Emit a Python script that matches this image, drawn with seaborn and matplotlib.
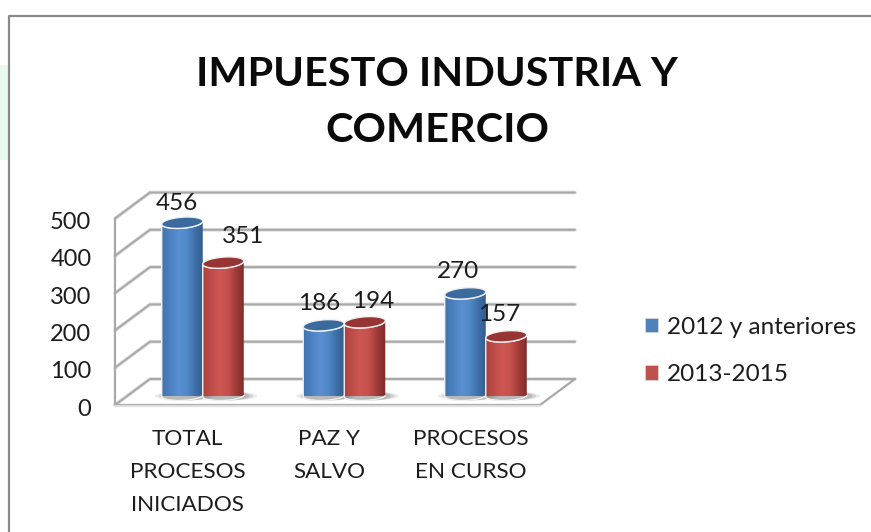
import numpy as np
import pandas as pd
import matplotlib
matplotlib.use("Agg")
import matplotlib.pyplot as plt
import matplotlib.transforms as mtrans
from matplotlib.colors import LinearSegmentedColormap
from matplotlib.patches import PathPatch, Patch, Rectangle
from matplotlib.path import Path
import seaborn as sns

# data
categories = ["TOTAL\nPROCESOS\nINICIADOS", "PAZ Y\nSALVO", "PROCESOS\nEN CURSO"]
series_names = ["2012 y anteriores", "2013-2015"]
values_2012 = [456, 186, 270]
values_2013 = [351, 194, 157]
y_ticks = [0, 100, 200, 300, 400, 500]

# style
W, H = 871, 532
FONT = ["Lato", "DejaVu Sans"]
TEXT = "#1c1c1c"
GRID = "#a8a8a8"
LEGEND_COLORS = ["#4f81bd", "#c0504d"]
SHADES = [
    ["#4274ae", "#4c82c1", "#5a90d2", "#5088c8", "#3f6fa8", "#315c8a"],
    ["#ad423f", "#bf4d49", "#cf5753", "#c4504c", "#a03b38", "#7c2b28"],
]
CAP_COLORS = ["#3b6a9e", "#963533"]
# label shift from top of each bar, px (dx, dy)
LABEL_SHIFT = [[(-5, 19), (-5, 22), (-7, 22)], [(20, 26), (8, 21), (-7, 22)]]

sns.set_style("white")
plt.rcParams["font.family"] = FONT


def px_axes(fig, x0, x1, y_top, y_bottom):
    return fig.add_axes([x0 / W, 1 - y_bottom / H, (x1 - x0) / W, (y_bottom - y_top) / H])


def draw_walls(ax, fig):
    # px per value on the wall, depth of the 3d box
    scale = 0.373
    dx, dy = 35, 26 / scale
    left, right = 115, 575
    ax.set_xlim(left, right)
    ax.set_ylim(0, 213 / scale)
    ax.patch.set_alpha(0)
    sns.despine(ax=ax, left=True, bottom=True)
    for t in y_ticks:
        xs = [left, left + dx, right]
        ys = [t, t + dy, t + dy]
        ax.plot(xs, ys, color="#dcdcdc", lw=2.6, solid_joinstyle="miter", clip_on=False)
        ax.plot(xs, ys, color=GRID, lw=1.4, solid_joinstyle="miter", clip_on=False)
    ax.plot([left, left], [0, y_ticks[-1]], color=GRID, lw=1.6, clip_on=False)
    ax.plot([left, right - dx, right], [0, 0, dy], color=GRID, lw=1.6, clip_on=False)
    ax.plot([left, right - dx], [-3, -3], color="#dedede", lw=1.6, clip_on=False)
    ax.set_xticks([])
    ax.set_yticks(y_ticks)
    ax.tick_params(axis="y", length=0, pad=17, labelsize=17, labelcolor=TEXT)
    down = mtrans.ScaledTranslation(0, -2 / 100, fig.dpi_scale_trans)
    for label in ax.get_yticklabels():
        label.set_transform(label.get_transform() + down)


def ellipse_xy(cx, cy, w, h, tilt, t):
    return cx + w / 2 * np.cos(t), cy + h / 2 * np.sin(t) + tilt * np.cos(t)


def cylinder(ax, bar, shades, cap_color, h, tilt, zorder):
    # turn one flat seaborn bar into a shaded cylinder
    x0, w, top = bar.get_x(), bar.get_width(), bar.get_height()
    cx = x0 + w / 2
    xs_top, ys_top = ellipse_xy(cx, top, w, h, tilt, np.linspace(0, -np.pi, 40))
    xs_low, ys_low = ellipse_xy(cx, 0, w, h * 0.8, tilt * 0.6, np.linspace(-np.pi, 0, 40))
    body = np.vstack([np.column_stack([xs_top, ys_top]), np.column_stack([xs_low, ys_low])])

    # soft shadow on the floor
    for grow, alpha in [(1.5, 0.14), (1.3, 0.2), (1.12, 0.28)]:
        sx, sy = ellipse_xy(cx + w * 0.08, 0, w * grow, h * 0.8, 0, np.linspace(0, 2 * np.pi, 60))
        ax.fill(sx, sy, color="#777777", alpha=alpha, lw=0, zorder=zorder - 1, clip_on=False)

    cmap = LinearSegmentedColormap.from_list("cyl", shades)
    img = ax.imshow(np.linspace(0, 1, 64)[None, :], cmap=cmap, aspect="auto",
                    extent=(x0, x0 + w, -h, top + h), zorder=zorder)
    patch = PathPatch(Path(body), transform=ax.transData, fc="none", ec="#f0f0f0",
                      lw=1.0, zorder=zorder + 0.1, clip_on=False)
    ax.add_patch(patch)
    img.set_clip_path(Path(body), ax.transData)

    cx_s, cy_s = ellipse_xy(cx, top, w, h, tilt, np.linspace(0, 2 * np.pi, 60))
    ax.fill(cx_s, cy_s, fc=cap_color, ec="#f0f0f0", lw=1.0, zorder=zorder + 0.2, clip_on=False)


def main():
    fig = plt.figure(figsize=(W / 100, H / 100), dpi=100, facecolor="white")

    # faint tint at left of the slide + frame of the chart box
    fig.add_artist(Rectangle((0, 1 - 160 / H), 8 / W, 95 / H, transform=fig.transFigure,
                             fc="#eaf8f2", ec="none"))
    fig.add_artist(plt.Line2D([9 / W, 9 / W, 1], [0, 1 - 15.5 / H, 1 - 15.5 / H],
                              color="#8a8a8a", lw=1.6, transform=fig.transFigure))

    wall_ax = px_axes(fig, 115, 575, 192, 405)
    draw_walls(wall_ax, fig)

    # bars, y=0 sits on the floor in front of the back wall
    scale = 0.38
    ax = px_axes(fig, 132, 556.5, 192, 396)
    ax.patch.set_alpha(0)
    df = pd.DataFrame({
        "categoria": categories * 2,
        "serie": [series_names[0]] * 3 + [series_names[1]] * 3,
        "valor": values_2012 + values_2013,
    })
    sns.barplot(data=df, x="categoria", y="valor", hue="serie", order=categories,
                hue_order=series_names, palette=LEGEND_COLORS, width=0.58, gap=0,
                legend=False, ax=ax)
    ax.set_xlim(-0.5, 2.5)
    ax.set_ylim(0, 204 / scale)
    sns.despine(ax=ax, left=True, bottom=True)
    ax.set_xlabel("")
    ax.set_ylabel("")
    ax.set_yticks([])

    cap_h = 11 / scale
    tilt = 1.5 / scale
    for s, container in enumerate(ax.containers):
        for c, bar in enumerate(container):
            bar.set_visible(False)
            cylinder(ax, bar, SHADES[s], CAP_COLORS[s], cap_h, tilt, zorder=3 + s)
            shift = LABEL_SHIFT[s][c]
            ax.annotate(str(int(bar.get_height())),
                        (bar.get_x() + bar.get_width() / 2, bar.get_height()),
                        xytext=(shift[0] * 0.72, shift[1] * 0.72), textcoords="offset points",
                        ha="center", va="center", fontsize=17.5, color=TEXT, zorder=8,
                        annotation_clip=False)
    ax.set_xlim(-0.5, 2.5)
    ax.set_ylim(0, 204 / scale)

    ax.set_xticks(range(len(categories)))
    ax.set_xticklabels(categories, fontsize=16.2, color=TEXT, linespacing=1.8)
    ax.tick_params(axis="x", length=0, pad=24)
    offset = mtrans.ScaledTranslation(-15 / 100, 0, fig.dpi_scale_trans)
    for label in ax.get_xticklabels():
        label.set_transform(label.get_transform() + offset)

    handles = [Patch(fc=col, ec="#dddddd", lw=0.5) for col in LEGEND_COLORS]
    fig.legend(handles, series_names, loc="center left",
               bbox_to_anchor=(645 / W, 1 - 351 / H), frameon=False, fontsize=17.5,
               labelcolor=TEXT, handlelength=0.55, handleheight=0.55, handletextpad=0.36,
               labelspacing=1.1, borderpad=0, borderaxespad=0)

    fig.text(437 / W, 1 - 75 / H, "IMPUESTO INDUSTRIA Y", ha="center", va="center",
             fontsize=29.8, fontweight="bold", color="#0a0a0a")
    fig.text(437 / W, 1 - 131 / H, "COMERCIO", ha="center", va="center",
             fontsize=29.8, fontweight="bold", color="#0a0a0a")

    fig.savefig("out.png", dpi=100)
    plt.close(fig)


if __name__ == "__main__":
    main()
